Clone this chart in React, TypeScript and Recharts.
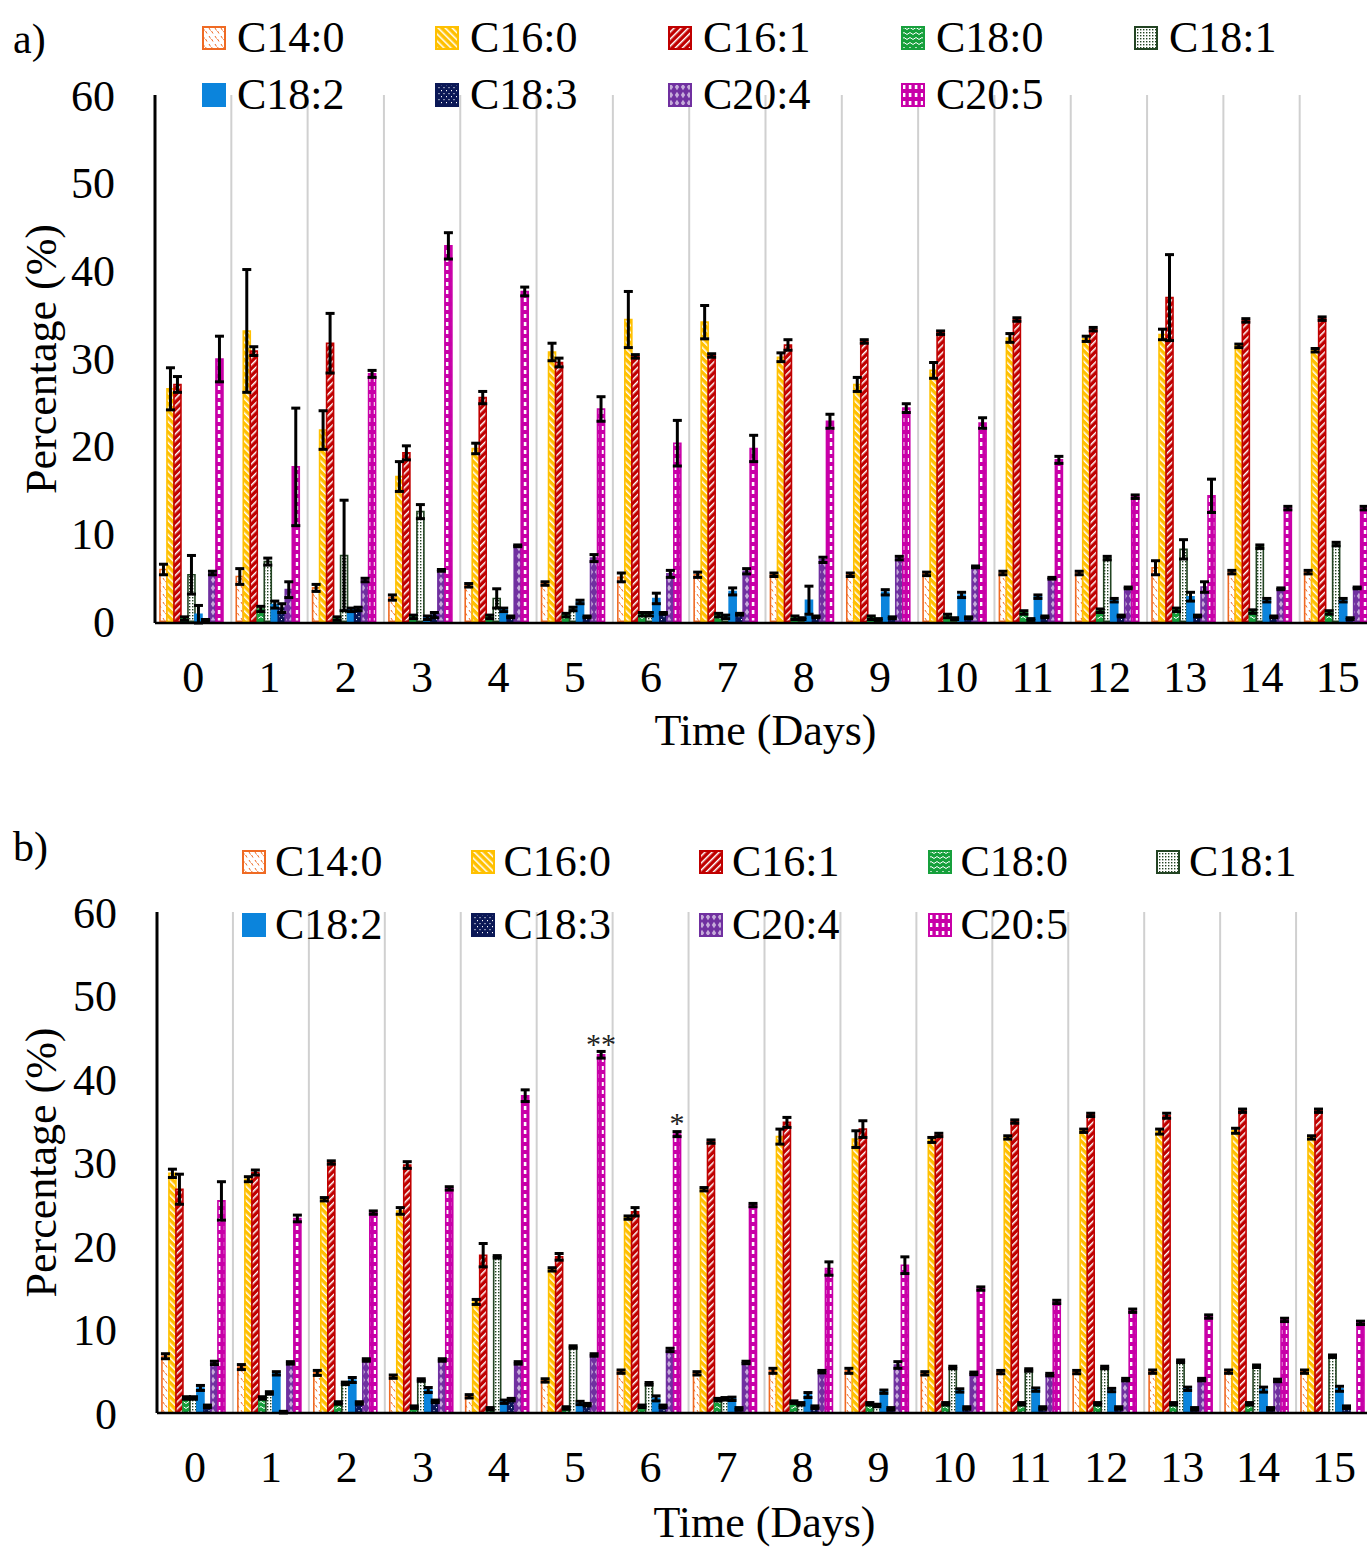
import React from "react";
import { Bar, BarChart, ErrorBar, LabelList, ReferenceLine, XAxis, YAxis } from "recharts";

const DAYS = ["0", "1", "2", "3", "4", "5", "6", "7", "8", "9", "10", "11", "12", "13", "14", "15"];
const Y_TICKS = [0, 10, 20, 30, 40, 50, 60];

// panel a) values (%), one entry per day
const A_C140 = [5.9, 5.1, 3.8, 2.7, 4.1, 4.3, 5.0, 5.3, 5.3, 5.3, 5.4, 5.5, 5.5, 6.1, 5.6, 5.6];
const A_C160 = [26.5, 33.1, 21.8, 16.5, 19.7, 30.7, 34.4, 34.1, 30.1, 27.0, 28.6, 32.3, 32.2, 32.7, 31.4, 30.9];
const A_C161 = [27.0, 30.8, 31.7, 19.2, 25.5, 29.5, 30.2, 30.3, 31.5, 31.9, 32.9, 34.4, 33.3, 36.9, 34.3, 34.5];
const A_C180 = [0.3, 1.4, 0.3, 0.5, 0.5, 0.7, 0.8, 0.7, 0.4, 0.4, 0.6, 1.0, 1.2, 1.3, 1.1, 1.0];
const A_C181 = [5.3, 6.8, 7.5, 12.5, 2.6, 1.4, 0.8, 0.5, 0.3, 0.2, 0.3, 0.2, 7.2, 8.2, 8.5, 8.8];
const A_C182 = [0.8, 1.9, 1.3, 0.4, 1.3, 2.2, 2.6, 3.4, 2.4, 3.3, 3.0, 2.8, 2.4, 2.8, 2.4, 2.4];
const A_C183 = [0.1, 1.5, 1.4, 0.7, 0.5, 0.5, 0.9, 0.8, 0.5, 0.4, 0.4, 0.5, 0.6, 0.6, 0.5, 0.3];
const A_C204 = [5.5, 3.6, 4.7, 5.8, 8.6, 7.2, 5.4, 5.7, 7.0, 7.2, 6.2, 4.9, 3.8, 3.9, 3.7, 3.8];
const A_C205 = [29.9, 17.6, 28.2, 42.8, 37.6, 24.2, 20.3, 19.7, 22.8, 24.3, 22.6, 18.4, 14.2, 14.3, 12.9, 12.9];

const A_C140_ERR = [0.6, 0.9, 0.4, 0.3, 0.2, 0.2, 0.5, 0.3, 0.2, 0.2, 0.2, 0.2, 0.2, 0.8, 0.2, 0.2];
const A_C160_ERR = [2.4, 7.0, 2.2, 1.7, 0.6, 1.0, 3.2, 1.9, 0.5, 0.8, 0.9, 0.5, 0.3, 0.6, 0.2, 0.2];
const A_C161_ERR = [0.9, 0.5, 3.4, 0.8, 0.7, 0.5, 0.2, 0.2, 0.6, 0.2, 0.2, 0.2, 0.2, 4.9, 0.2, 0.2];
const A_C180_ERR = [0.2, 0.3, 0.2, 0.2, 0.2, 0.2, 0.2, 0.2, 0.2, 0.2, 0.2, 0.2, 0.2, 0.2, 0.2, 0.2];
const A_C181_ERR = [2.2, 0.4, 6.3, 0.8, 1.1, 0.2, 0.2, 0.2, 0.1, 0.1, 0.1, 0.1, 0.2, 1.1, 0.2, 0.2];
const A_C182_ERR = [1.0, 0.4, 0.2, 0.2, 0.2, 0.2, 0.6, 0.4, 1.6, 0.3, 0.3, 0.2, 0.2, 0.5, 0.2, 0.2];
const A_C183_ERR = [0.1, 0.5, 0.2, 0.3, 0.1, 0.1, 0.1, 0.1, 0.1, 0.1, 0.1, 0.1, 0.1, 0.1, 0.1, 0.1];
const A_C204_ERR = [0.2, 0.9, 0.2, 0.1, 0.1, 0.4, 0.4, 0.3, 0.3, 0.2, 0.1, 0.1, 0.1, 0.6, 0.1, 0.1];
const A_C205_ERR = [2.6, 6.7, 0.4, 1.5, 0.5, 1.4, 2.6, 1.5, 0.8, 0.5, 0.6, 0.4, 0.2, 1.9, 0.2, 0.2];

// panel b) values (%)
const B_C140 = [6.8, 5.5, 4.8, 4.35, 2.0, 3.9, 4.95, 4.75, 5.05, 5.05, 4.75, 4.9, 4.9, 4.95, 4.95, 4.95];
const B_C160 = [28.7, 28.0, 25.6, 24.2, 13.3, 17.2, 23.4, 26.8, 33.1, 32.8, 32.7, 33.0, 33.8, 33.7, 33.8, 33.0];
const B_C161 = [26.8, 28.8, 30.0, 29.7, 18.9, 18.7, 24.1, 32.5, 34.8, 34.0, 33.3, 34.9, 35.7, 35.6, 36.2, 36.2];
const B_C180 = [1.8, 1.8, 1.2, 0.7, 0.5, 0.6, 0.8, 1.6, 1.3, 1.1, 1.1, 1.1, 1.1, 1.1, 1.1, 0];
const B_C181 = [1.8, 2.4, 3.55, 3.95, 18.7, 7.9, 3.5, 1.7, 1.1, 0.9, 5.45, 5.15, 5.45, 6.2, 5.6, 6.8];
const B_C182 = [3.0, 4.75, 3.95, 2.75, 1.35, 1.2, 1.75, 1.7, 2.15, 2.55, 2.7, 2.8, 2.75, 2.9, 2.8, 2.9];
const B_C183 = [0.8, 0.1, 1.2, 1.4, 1.6, 1.0, 0.8, 0.5, 0.7, 0.5, 0.6, 0.6, 0.6, 0.5, 0.5, 0.7];
const B_C204 = [6.0, 6.0, 6.35, 6.35, 6.0, 6.95, 7.55, 6.05, 4.95, 5.75, 4.75, 4.6, 4.0, 4.0, 3.9, 0];
const B_C205 = [25.4, 23.3, 24.0, 26.9, 38.0, 42.9, 33.4, 24.9, 17.3, 17.7, 14.9, 13.3, 12.25, 11.55, 11.15, 10.8];

const B_C140_ERR = [0.3, 0.3, 0.3, 0.2, 0.2, 0.2, 0.2, 0.2, 0.3, 0.3, 0.2, 0.2, 0.2, 0.2, 0.2, 0.2];
const B_C160_ERR = [0.5, 0.3, 0.2, 0.4, 0.3, 0.2, 0.2, 0.2, 0.9, 1.0, 0.3, 0.2, 0.2, 0.3, 0.3, 0.2];
const B_C161_ERR = [1.8, 0.3, 0.2, 0.4, 1.4, 0.4, 0.5, 0.2, 0.6, 1.0, 0.2, 0.2, 0.2, 0.3, 0.2, 0.2];
const B_C180_ERR = [0.15, 0.15, 0.15, 0.15, 0.15, 0.15, 0.15, 0.15, 0.15, 0.15, 0.15, 0.15, 0.15, 0.15, 0.15, 0];
const B_C181_ERR = [0.15, 0.15, 0.15, 0.15, 0.15, 0.15, 0.15, 0.15, 0.15, 0.15, 0.15, 0.15, 0.15, 0.15, 0.15, 0.15];
const B_C182_ERR = [0.3, 0.2, 0.3, 0.3, 0.2, 0.2, 0.3, 0.2, 0.3, 0.2, 0.2, 0.2, 0.2, 0.2, 0.3, 0.3];
const B_C183_ERR = [0.15, 0.1, 0.15, 0.15, 0.15, 0.15, 0.15, 0.15, 0.15, 0.15, 0.15, 0.15, 0.15, 0.15, 0.15, 0.15];
const B_C204_ERR = [0.2, 0.15, 0.15, 0.15, 0.15, 0.15, 0.2, 0.15, 0.15, 0.4, 0.15, 0.15, 0.15, 0.15, 0.15, 0];
const B_C205_ERR = [2.3, 0.4, 0.2, 0.2, 0.7, 0.4, 0.3, 0.2, 0.8, 1.0, 0.2, 0.2, 0.2, 0.2, 0.2, 0.2];

const B_SIG = ["", "", "", "", "", "**", "*", "", "", "", "", "", "", "", "", ""];

const SERIES = [
  { key: "c140", name: "C14:0", color: "#ef6a23", fill: "url(#fa-c140)" },
  { key: "c160", name: "C16:0", color: "#ffc000", fill: "url(#fa-c160)" },
  { key: "c161", name: "C16:1", color: "#c00000", fill: "url(#fa-c161)" },
  { key: "c180", name: "C18:0", color: "#16a03c", fill: "url(#fa-c180)" },
  { key: "c181", name: "C18:1", color: "#234423", fill: "url(#fa-c181)" },
  { key: "c182", name: "C18:2", color: "#0b84dc", fill: "#0b84dc" },
  { key: "c183", name: "C18:3", color: "#0b1856", fill: "url(#fa-c183)" },
  { key: "c204", name: "C20:4", color: "#7030a0", fill: "url(#fa-c204)" },
  { key: "c205", name: "C20:5", color: "#c800a8", fill: "url(#fa-c205)" },
];

const FONT = '"Liberation Serif", "Times New Roman", serif';

function buildRows(values: number[][], errors: number[][], sig?: string[]) {
  return DAYS.map((day, i) => {
    const row: Record<string, string | number> = { day, sig: sig ? sig[i] : "" };
    SERIES.forEach((s, j) => {
      row[s.key] = values[j][i];
      row[s.key + "Err"] = errors[j][i];
    });
    return row;
  });
}

const rowsA = buildRows(
  [A_C140, A_C160, A_C161, A_C180, A_C181, A_C182, A_C183, A_C204, A_C205],
  [A_C140_ERR, A_C160_ERR, A_C161_ERR, A_C180_ERR, A_C181_ERR, A_C182_ERR, A_C183_ERR, A_C204_ERR, A_C205_ERR]
);
const rowsB = buildRows(
  [B_C140, B_C160, B_C161, B_C180, B_C181, B_C182, B_C183, B_C204, B_C205],
  [B_C140_ERR, B_C160_ERR, B_C161_ERR, B_C180_ERR, B_C181_ERR, B_C182_ERR, B_C183_ERR, B_C204_ERR, B_C205_ERR],
  B_SIG
);

function Patterns() {
  return (
    <svg width={0} height={0} style={{ position: "absolute" }}>
      <defs>
        <pattern id="fa-c140" patternUnits="userSpaceOnUse" width={6} height={8}>
          <rect width={6} height={8} fill="#fff" />
          <path d="M1 2 L2.5 4.5 M3.5 5 L5 7.5" stroke="#ef6a23" strokeWidth={1} fill="none" />
        </pattern>
        <pattern id="fa-c160" patternUnits="userSpaceOnUse" width={5} height={5} patternTransform="rotate(-45)">
          <rect width={5} height={5} fill="#ffc000" />
          <rect width={1.5} height={5} fill="#fff" />
        </pattern>
        <pattern id="fa-c161" patternUnits="userSpaceOnUse" width={5} height={5} patternTransform="rotate(45)">
          <rect width={5} height={5} fill="#c00000" />
          <rect width={1.5} height={5} fill="#fff" />
        </pattern>
        <pattern id="fa-c180" patternUnits="userSpaceOnUse" width={6} height={5}>
          <rect width={6} height={5} fill="#16a03c" />
          <path d="M0 3.5 L3 1.5 L6 3.5" stroke="#fff" strokeWidth={1} fill="none" />
        </pattern>
        <pattern id="fa-c181" patternUnits="userSpaceOnUse" width={3} height={3}>
          <rect width={3} height={3} fill="#fff" />
          <rect width={1.4} height={1.4} fill="#234423" />
        </pattern>
        <pattern id="fa-c183" patternUnits="userSpaceOnUse" width={5} height={6}>
          <rect width={5} height={6} fill="#0b1856" />
          <rect x={1} y={1} width={1} height={1.2} fill="#fff" />
          <rect x={3.5} y={4} width={1} height={1.2} fill="#fff" />
        </pattern>
        <pattern id="fa-c204" patternUnits="userSpaceOnUse" width={6} height={8}>
          <rect width={6} height={8} fill="#7030a0" />
          <path d="M3 0.8 L5.2 4 L3 7.2 L0.8 4 Z" fill="#fff" opacity={0.6} />
        </pattern>
        <pattern id="fa-c205" patternUnits="userSpaceOnUse" width={6} height={8}>
          <rect width={6} height={8} fill="#c800a8" />
          <rect x={1.8} y={2} width={2.6} height={4} fill="#fff" />
        </pattern>
      </defs>
    </svg>
  );
}

function PanelLegend({ left, top, pitch, rowGap, gap }: { left: number; top: number; pitch: number; rowGap: number; gap: number }) {
  return (
    <>
      {SERIES.map((s, i) => {
        const col = i < 5 ? i : i - 5;
        const row = i < 5 ? 0 : 1;
        return (
          <div
            key={s.key}
            style={{
              position: "absolute",
              left: left + col * pitch,
              top: top + row * rowGap,
              height: 50,
              display: "flex",
              alignItems: "center",
              fontSize: 44,
              lineHeight: "50px",
            }}
          >
            <svg width={24} height={24}>
              <rect x={1} y={1} width={22} height={22} fill={s.fill} stroke={s.color} strokeWidth={2} />
            </svg>
            <span style={{ marginLeft: gap }}>{s.name}</span>
          </div>
        );
      })}
    </>
  );
}

type PanelProps = {
  rows: Record<string, string | number>[];
  top: number;
  width: number;
  axisWidth: number;
  marginTop: number;
  plotHeight: number;
  axisHeight: number;
  titleOffset: number;
  showSig?: boolean;
};

function Panel({ rows, top, width, axisWidth, marginTop, plotHeight, axisHeight, titleOffset, showSig }: PanelProps) {
  return (
    <div style={{ position: "absolute", left: 0, top }}>
      <BarChart
        width={width}
        height={marginTop + plotHeight + axisHeight}
        data={rows}
        margin={{ top: marginTop, right: 4, bottom: 0, left: 0 }}
        barCategoryGap="6.5%"
        barGap={0}
      >
        {DAYS.slice(1).map((d) => (
          <ReferenceLine key={d} x={d} position="start" stroke="#d0d0d0" strokeWidth={2} />
        ))}
        <XAxis
          dataKey="day"
          height={axisHeight}
          tickLine={false}
          tickSize={0}
          tickMargin={38}
          axisLine={{ stroke: "#000", strokeWidth: 2.5 }}
          tick={{ fill: "#000", fontSize: 44, fontFamily: FONT }}
          interval={0}
          label={{ value: "Time (Days)", position: "insideBottom", offset: titleOffset, fill: "#000", fontSize: 44, fontFamily: FONT }}
        />
        <YAxis
          width={axisWidth}
          domain={[0, 60]}
          ticks={Y_TICKS}
          tickLine={false}
          tickSize={0}
          tickMargin={40}
          axisLine={{ stroke: "#000", strokeWidth: 3 }}
          tick={{ fill: "#000", fontSize: 44, fontFamily: FONT }}
          label={{
            value: "Percentage (%)",
            angle: -90,
            position: "insideLeft",
            offset: 40,
            fill: "#000",
            fontSize: 44,
            fontFamily: FONT,
            style: { textAnchor: "middle" },
          }}
        />
        {SERIES.map((s) => (
          <Bar key={s.key} dataKey={s.key} name={s.name} fill={s.fill} stroke={s.color} strokeWidth={1.6} isAnimationActive={false}>
            <ErrorBar dataKey={s.key + "Err"} direction="y" width={4.5} strokeWidth={3} stroke="#000" isAnimationActive={false} />
            {showSig && s.key === "c205" ? (
              <LabelList dataKey="sig" position="top" offset={1} fill="#222" fontSize={30} fontFamily={FONT} />
            ) : null}
          </Bar>
        ))}
      </BarChart>
    </div>
  );
}

export default function App() {
  return (
    <div
      style={{
        position: "absolute",
        left: 0,
        top: 0,
        width: 1367,
        height: 1548,
        overflow: "hidden",
        background: "#fff",
        fontFamily: FONT,
        color: "#000",
      }}
    >
      <Patterns />
      <Panel rows={rowsA} top={0} width={1380} axisWidth={155} marginTop={95} plotHeight={528} axisHeight={140} titleOffset={18} />
      <Panel rows={rowsB} top={800} width={1376} axisWidth={157} marginTop={112} plotHeight={501} axisHeight={135} titleOffset={11} showSig />
      <PanelLegend left={202} top={13} pitch={233} rowGap={57} gap={11} />
      <PanelLegend left={242} top={837} pitch={228.5} rowGap={63} gap={9} />
      <div style={{ position: "absolute", left: 13, top: 14, fontSize: 42, lineHeight: "50px" }}>a)</div>
      <div style={{ position: "absolute", left: 13, top: 822, fontSize: 42, lineHeight: "50px" }}>b)</div>
    </div>
  );
}
